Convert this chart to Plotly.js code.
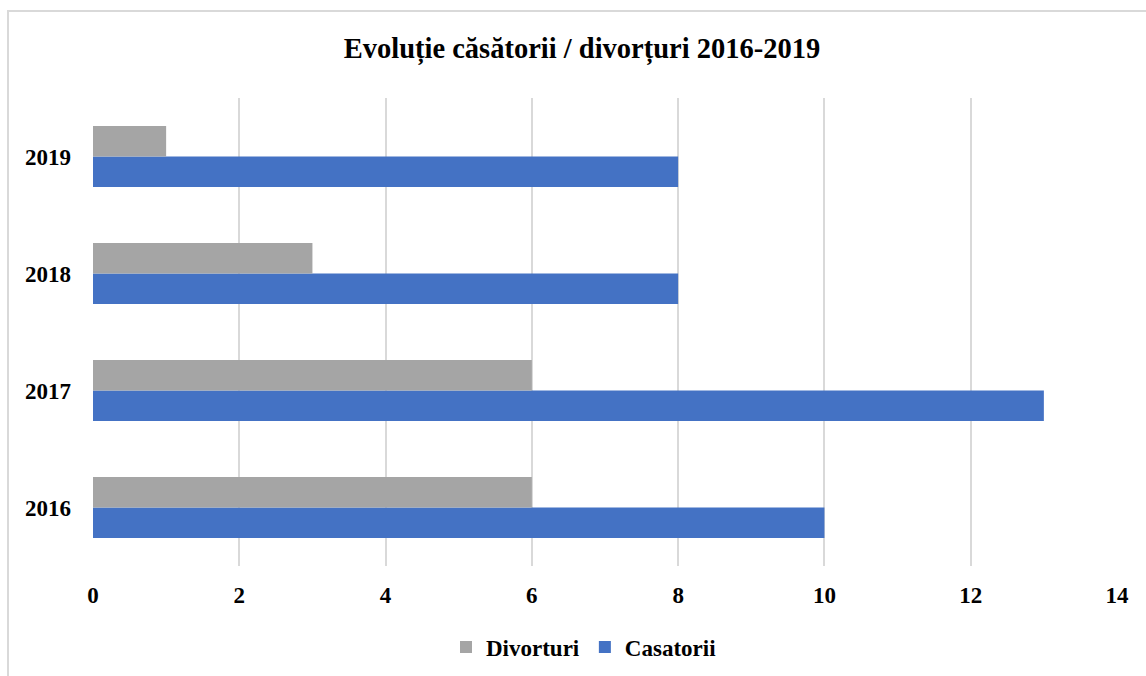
<!DOCTYPE html>
<html><head><meta charset="utf-8">
<script src="https://cdn.plot.ly/plotly-3.0.1.min.js"></script>
<style>html,body{margin:0;padding:0;background:#fff;overflow:hidden}
#frame{position:absolute;left:7px;top:10px;width:1200px;height:720px;border:2px solid #d9d9d9;pointer-events:none;z-index:5}
#chart{position:absolute;left:0;top:0;width:1146px;height:676px}</style>
</head><body>
<div id="chart"></div><div id="frame"></div>
<script>
const years = ['2016','2017','2018','2019'];
const casatorii = [10,13,8,8];
const divorturi = [6,6,3,1];
const xTicks = [0,2,4,6,8,10,12,14];

const font = {family:'"Liberation Serif", "Times New Roman", serif', color:'#000'};
const traces = [
  {type:'bar', orientation:'h', name:'Casatorii', y:years, x:casatorii, marker:{color:'#4472c4'}, hoverinfo:'x'},
  {type:'bar', orientation:'h', name:'Divorturi', y:years, x:divorturi, marker:{color:'#a5a5a5'}, hoverinfo:'x'}
];
const layout = {
  width:1146, height:676,
  margin:{l:93, r:29, t:98, b:110, autoexpand:false},
  paper_bgcolor:'#fff', plot_bgcolor:'#fff',
  font:Object.assign({size:23, weight:'bold'}, font),
  title:{text:'<b>Evoluție căsătorii / divorțuri 2016-2019</b>', font:Object.assign({size:28.5}, font), x:582/1146, xanchor:'center', y:1-48/676, yanchor:'middle', yref:'container'},
  barmode:'group', bargap:0.48, bargroupgap:0,
  xaxis:{range:[0,14], tickvals:xTicks, ticktext:xTicks.map(String), showgrid:true, gridcolor:'#d9d9d9', gridwidth:2, zeroline:false, showline:false, ticks:'', ticklabelstandoff:13, automargin:false, tickfont:Object.assign({size:23, weight:'bold'}, font), fixedrange:true},
  yaxis:{type:'category', categoryorder:'array', categoryarray:years, range:[-0.5,3.5], showgrid:false, zeroline:false, showline:false, ticks:'', ticklabelstandoff:21, automargin:false, tickfont:Object.assign({size:23, weight:'bold'}, font), fixedrange:true},
  showlegend:true,
  legend:{orientation:'h', x:584/1146, xanchor:'center', xref:'container', y:1-647/676, yanchor:'middle', yref:'container', traceorder:'reversed', font:Object.assign({size:23, weight:'bold'}, font), itemwidth:30, itemsizing:'constant'},
  shapes:[]
};
Plotly.newPlot('chart', traces, layout, {displayModeBar:false, staticPlot:true});
</script>
</body></html>
